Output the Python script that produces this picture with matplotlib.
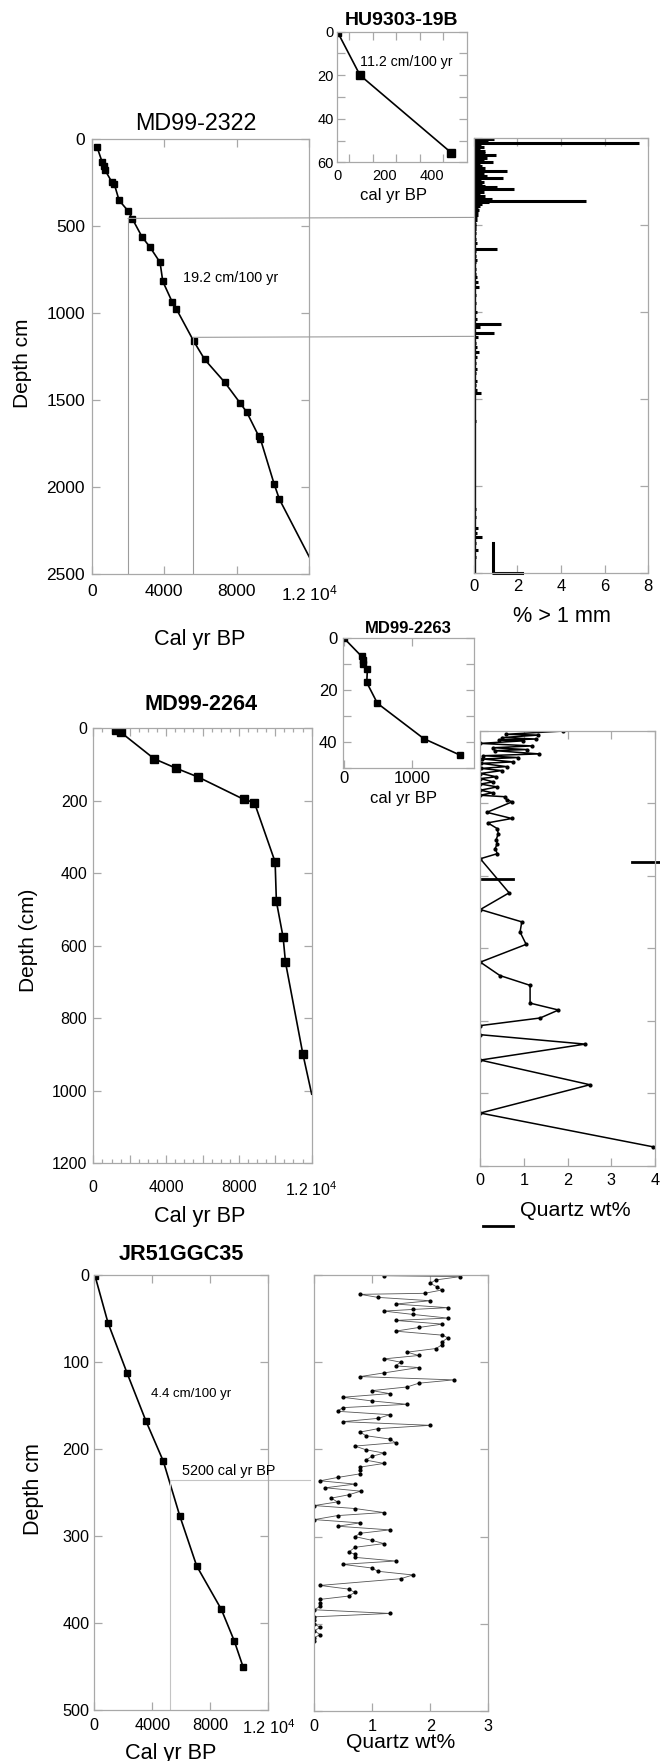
import numpy as np
import matplotlib
matplotlib.use('Agg')
from matplotlib import pyplot as plt
from matplotlib.patches import ConnectionPatch

plt.rcParams['font.family'] = ['Liberation Sans', 'DejaVu Sans']
plt.rcParams['mathtext.fontset'] = 'custom'
plt.rcParams['mathtext.rm'] = 'Liberation Sans'
plt.rcParams['mathtext.default'] = 'regular'

# ---- MD99-2322 age model (cal yr BP vs depth cm)
md2322_age = [290, 570, 660, 735, 1100, 1250, 1510, 2000, 2240, 2780, 3220, 3770,
              3920, 4450, 4670, 5630, 6230, 7340, 8200, 8550, 9210, 9300, 10060, 10350]
md2322_depth = [43, 129, 152, 177, 244, 259, 351, 411, 457, 562, 621, 708,
                817, 938, 976, 1162, 1266, 1398, 1519, 1569, 1707, 1722, 1982, 2070]
md2322_tail = (12000, 2402)
md2322_tie_age = [2000, 5600]
md2322_tie_depth = [455, 1139]

# ---- HU9303-19B
hu_age = [0, 96, 482]
hu_depth = [0, 20, 55.5]

# ---- MD99-2322 coarse fraction (% > 1 mm)
coarse_depth = [2, 14, 20, 29, 40, 52, 62, 71, 85, 96, 105, 115, 125, 138, 147, 157,
                170, 186, 195, 205, 215, 230, 240, 249, 262, 272, 282, 292, 300, 310,
                320, 330, 340, 349, 359, 368, 375, 388, 400, 415, 426, 440, 455, 470,
                490, 503, 520, 545, 580, 600, 635, 650, 675, 700, 714, 750, 780, 800,
                829, 858, 900, 950, 1001, 1040, 1069, 1088, 1122, 1140, 1180, 1200,
                1231, 1260, 1290, 1327, 1350, 1394, 1420, 1450, 1466, 1560, 1625, 1894,
                2134, 2180, 2240, 2270, 2292, 2330, 2369, 2410, 2461]
coarse_pct = [0.94, 0.67, 0.4, 7.58, 0.35, 0.45, 0.3, 0.52, 0.5, 1.0, 0.35, 0.6, 0.45,
              0.9, 0.3, 0.37, 0.5, 1.54, 0.4, 0.45, 0.6, 1.36, 0.35, 0.45, 0.4, 0.5,
              1.05, 1.86, 0.4, 0.45, 0.3, 0.52, 0.35, 0.82, 5.14, 0.7, 0.4, 0.3, 0.2,
              0.25, 0.21, 0.2, 0.14, 0.15, 0.1, 0.12, 0.12, 0.1, 0.1, 0.15, 1.05, 0.1,
              0.12, 0.15, 0.1, 0.12, 0.1, 0.15, 0.21, 0.24, 0.1, 0.1, 0.14, 0.15, 1.24,
              0.29, 0.95, 0.2, 0.12, 0.15, 0.24, 0.15, 0.12, 0.14, 0.12, 0.14, 0.1,
              0.15, 0.34, 0.08, 0.1, 0.08, 0.1, 0.1, 0.21, 0.15, 0.40, 0.12, 0.21, 0.1,
              0.08]
scale_mark_pct = [0.87, 0.87, 2.2]
scale_mark_depth = [2330, 2500, 2500]

# ---- MD99-2263
md2263_age = [0, 261, 276, 285, 344, 335, 492, 1177, 1718]
md2263_depth = [0, 7, 8.5, 10, 12, 17, 25, 38.6, 45]

# ---- MD99-2264 age model
md2264_age = [1230, 1510, 3340, 4540, 5780, 8260, 8850, 9990, 10060, 10430, 10560, 11510]
md2264_depth = [5, 11, 84, 110, 135, 196, 205, 369, 478, 577, 646, 898]
md2264_tail = (12000, 1010)

# ---- MD99-2264 quartz
q2264_depth = [1, 10, 12, 19, 23, 26, 28, 35, 42, 47, 52, 55, 64, 69, 74, 78, 86, 90,
               99, 104, 110, 118, 127, 132, 141, 147, 155, 164, 171, 178, 182, 190, 196,
               225, 242, 254, 270, 284, 302, 311, 325, 339, 353, 447, 493, 527, 555, 589,
               638, 675, 702, 751, 770, 792, 813, 838, 864, 908, 976, 1054, 1147]
q2264_wt = [1.89, 0.58, 1.33, 0.50, 1.28, 0.43, 0.98, 0.0, 1.18, 0.30, 1.06, 0.33, 1.35,
            0.07, 0.87, 0.05, 0.76, 0.02, 0.60, 0.02, 0.49, 0.0, 0.37, 0.0, 0.30, 0.0,
            0.39, 0.0, 0.28, 0.0, 0.56, 0.60, 0.73, 0.15, 0.72, 0.17, 0.39, 0.41, 0.36,
            0.39, 0.34, 0.39, 0.0, 0.66, 0.0, 0.95, 0.91, 1.05, 0.0, 0.45, 1.14, 1.14,
            1.79, 1.37, 0.0, 0.0, 2.40, 0.0, 2.51, 0.0, 3.95]
q2264_bar1 = ([0.05, 0.74], 408)
q2264_bar2 = ([3.47, 4.12], 362)
q2264_bar3 = ([0.07, 0.74], 1365)

# ---- JR51GGC35 age model
jr_age = [50, 945, 2255, 3566, 4759, 5890, 7062, 8759, 9655, 10255]
jr_depth = [1, 55, 112.5, 168, 214, 276.6, 334.5, 384.3, 420.7, 450.2]
jr_tie_age = 5200
jr_tie_depth = 236

# ---- JR51GGC35 quartz
jr_q_wt = [1.20, 2.51, 2.09, 2.0, 2.11, 2.2, 1.9, 0.79, 1.10, 2.0, 1.40, 2.30, 1.70, 1.20,
           1.70, 2.30, 1.40, 2.21, 1.80, 1.40, 2.21, 2.30, 2.2, 2.2, 2.1, 1.6, 1.8, 1.2,
           1.49, 1.4, 1.8, 1.2, 0.79, 2.4, 1.8, 1.6, 0.99, 1.3, 0.49, 0.99, 1.6, 0.49,
           0.4, 1.3, 1.1, 0.49, 2.0, 1.1, 0.79, 0.89, 1.3, 1.4, 0.7, 0.89, 1.2, 0.99,
           0.89, 1.2, 0.79, 0.79, 0.79, 0.4, 0.1, 0.7, 0.19, 0.8, 0.59, 0.29, 0.4, 0.0,
           0.7, 1.2, 0.4, 0.0, 0.79, 0.4, 1.3, 0.79, 0.7, 0.99, 1.2, 0.7, 0.59, 0.7, 0.7,
           1.4, 0.49, 0.99, 1.1, 1.7, 1.49, 0.1, 0.59, 0.7, 0.59, 0.1, 0.1, 0.1, 0.0,
           1.3, 0.0, 0.0, 0.0, 0.1, 0.0, 0.1, 0.0, 0.0]
jr_q_depth = [0.8, 1.9, 5.7, 9.6, 13.4, 17.2, 21, 22.2, 25.7, 29.5, 33.3, 37.5, 39.5, 41.4,
              45.2, 49.4, 52.1, 56.3, 60.2, 64.4, 69, 72, 77, 80, 84.3, 88.5, 92.3, 96.2,
              100, 104.2, 106.1, 112.3, 116.5, 120.3, 124.1, 128.4, 132.6, 136, 140.2,
              144.4, 148.3, 152.1, 156.3, 160.2, 164.4, 168.2, 172.4, 176.2, 180.1,
              184.3, 188.1, 192.3, 196.2, 200.4, 204.2, 208, 212.3, 216.1, 220.3, 224.1,
              228, 232.2, 236, 239.8, 244, 247.9, 252.1, 255.9, 260.2, 264.4, 267.8,
              272.4, 275.9, 280.5, 284.3, 288.1, 292.3, 296.2, 300, 304.2, 308, 312.3,
              318, 320, 323.8, 328, 331.8, 336, 339.8, 344, 348.3, 356, 360.2, 364,
              368.2, 372, 375.9, 380, 383.9, 388.1, 392, 395.8, 400, 404.2, 408, 412.3,
              416.1, 420]

W, H = 660, 1761
FRAME = '#a8a8a8'
TIE = '#9c9c9c'

fig = plt.figure(figsize=(W / 100, H / 100), dpi=100)


def box(l, t, r, b):
    return [l / W, 1 - b / H, (r - l) / W, (b - t) / H]


def ftext(x, y, s, **kw):
    kw.setdefault('ha', 'center')
    kw.setdefault('va', 'baseline')
    fig.text(x / W, 1 - y / H, s, **kw)


def frame(ax, size, xpad, ypad, major=6, minor=3):
    for s in ax.spines.values():
        s.set_color(FRAME)
        s.set_linewidth(0.9)
    ax.tick_params(which='both', direction='in', top=True, right=True,
                   color=FRAME, width=0.9, labelsize=size)
    ax.tick_params(which='major', length=major)
    ax.tick_params(which='minor', length=minor)
    ax.tick_params(axis='x', pad=xpad)
    ax.tick_params(axis='y', pad=ypad)


big = ['0', '4000', '8000', '1.2 10$^4$']

# MD99-2322 age-depth
axA = fig.add_axes(box(91.7, 139.3, 309.3, 574))
axA.plot(md2322_age + [md2322_tail[0]], md2322_depth + [md2322_tail[1]], color='k', lw=1.2)
axA.plot(md2322_age, md2322_depth, 's', color='k', ms=5)
for a, d in zip(md2322_tie_age, md2322_tie_depth):
    axA.plot([a, a], [d, 2500], color=TIE, lw=0.8)
axA.text(5020, 820, '19.2 cm/100 yr', fontsize=10.4, va='baseline')
axA.set_xlim(0, 12000)
axA.set_ylim(2500, 0)
axA.set_xticks([0, 4000, 8000, 12000], big)
axA.set_yticks(range(0, 2501, 500))
frame(axA, 12.5, 7, 4.8)
ftext(195.8, 130, 'MD99-2322', fontsize=16.8)
ftext(200, 644.8, 'Cal yr BP', fontsize=15.6)
ftext(23, 363, 'Depth cm', fontsize=15, rotation=90, va='center')

# coarse fraction
axB = fig.add_axes(box(473.7, 138.3, 648.3, 573))
axB.axvline(0, color='k', lw=2.4)
axB.hlines(coarse_depth, 0, coarse_pct, color='k', lw=2.2)
axB.plot(scale_mark_pct, scale_mark_depth, color='k', lw=2.2, clip_on=False)
axB.set_xlim(0, 8)
axB.set_ylim(2500, 0)
axB.set_xticks(range(0, 9, 2))
axB.set_yticks(range(0, 2501, 500))
frame(axB, 12, 4.5, 3)
axB.tick_params(labelleft=False)
ftext(561.7, 621.8, '% > 1 mm', fontsize=15.6)

for a, d in zip(md2322_tie_age, md2322_tie_depth):
    fig.add_artist(ConnectionPatch(xyA=(a, d), coordsA=axA.transData,
                                   xyB=(0, d), coordsB=axB.transData,
                                   color=TIE, lw=0.8))

# HU9303-19B inset
axH = fig.add_axes(box(336.7, 31.7, 467, 162.3))
axH.plot(hu_age, hu_depth, '-s', color='k', lw=1.2, ms=5.8)
axH.text(291, 15.7, '11.2 cm/100 yr', fontsize=10.2, ha='center', va='baseline')
axH.set_xlim(-3, 550)
axH.set_ylim(60, 0)
axH.set_xticks([0, 200, 400])
axH.set_xticks(range(50, 500, 100), minor=True)
axH.set_yticks([0, 20, 40, 60])
axH.set_yticks(range(10, 60, 20), minor=True)
frame(axH, 10.5, 4.6, 2, major=6, minor=6)
axH.tick_params(axis='x', which='major', length=0)
ftext(401.7, 25.3, 'HU9303-19B', fontsize=14, fontweight='bold')
ftext(393.3, 200, 'cal yr BP', fontsize=12)

# MD99-2263 inset
axC = fig.add_axes(box(342.7, 638.3, 473.5, 768.3))
axC.plot(md2263_age, md2263_depth, '-s', color='k', lw=1.2, ms=4.8)
axC.set_xlim(-20, 1910)
axC.set_ylim(50, 0)
axC.set_xticks([0, 1000])
axC.set_yticks([0, 20, 40])
axC.set_yticks([10, 30, 50], minor=True)
frame(axC, 12, 2, 3.9, major=6, minor=6)
ftext(408, 632.7, 'MD99-2263', fontsize=12, fontweight='bold')
ftext(404, 803.3, 'cal yr BP', fontsize=12)

# MD99-2264 age-depth
axD = fig.add_axes(box(93.3, 728.3, 311.7, 1163))
axD.plot(md2264_age + [md2264_tail[0]], md2264_depth + [md2264_tail[1]], color='k', lw=1.2)
axD.plot(md2264_age, md2264_depth, 's', color='k', ms=5.3)
axD.set_xlim(0, 12000)
axD.set_ylim(1200, 0)
axD.set_xticks(range(0, 12001, 2000), [big[i // 2] if i % 2 == 0 else '' for i in range(7)])
axD.set_xticks(range(0, 12001, 500), minor=True)
axD.set_yticks(range(0, 1201, 200))
frame(axD, 11.5, 12.5, 4.3)
ftext(201, 710, 'MD99-2264', fontsize=15.6, fontweight='bold')
ftext(200, 1221.7, 'Cal yr BP', fontsize=15.6)
ftext(28, 940, 'Depth (cm)', fontsize=15, rotation=90, va='center')

# MD99-2264 quartz
axE = fig.add_axes(box(480.3, 730.7, 655, 1166))
axE.plot(q2264_wt, q2264_depth, '-o', color='k', lw=1.1, ms=2)
for xs, d in (q2264_bar1, q2264_bar2, q2264_bar3):
    axE.plot(xs, [d, d], color='k', lw=2, clip_on=False)
axE.set_xlim(0, 4)
axE.set_ylim(1200, 0)
axE.set_xticks(range(0, 5))
axE.set_yticks(range(0, 1201, 200))
frame(axE, 11.7, 4.9, 3)
axE.tick_params(labelleft=False)
ftext(575, 1216, 'Quartz wt%', fontsize=15.4)

# JR51GGC35 age-depth
axF = fig.add_axes(box(94.3, 1275, 268.3, 1710))
axF.plot(jr_age, jr_depth, '-s', color='k', lw=1.2, ms=4.8)
axF.plot([jr_tie_age, jr_tie_age], [jr_tie_depth, 500], color='#c4c4c4', lw=0.8)
axF.plot([jr_tie_age, 14880], [jr_tie_depth, jr_tie_depth], color='#c4c4c4', lw=0.8,
         clip_on=False)
axF.text(3910, 140.7, '4.4 cm/100 yr', fontsize=9.5, va='baseline')
axF.text(6070, 229.9, '5200 cal yr BP', fontsize=10.4, va='baseline')
axF.set_xlim(0, 12000)
axF.set_ylim(500, 0)
axF.set_xticks([0, 4000, 8000, 12000], big)
axF.set_yticks(range(0, 501, 100))
frame(axF, 11.7, 5.7, 3.6)
ftext(181, 1260, 'JR51GGC35', fontsize=15.6, fontweight='bold')
ftext(171, 1759, 'Cal yr BP', fontsize=15.6)
ftext(33, 1489, 'Depth cm', fontsize=15.5, rotation=90, va='center')

# JR51GGC35 quartz
axG = fig.add_axes(box(314.3, 1275, 488.3, 1711))
axG.plot(jr_q_wt, jr_q_depth, '-', color='#555555', lw=0.6)
axG.plot(jr_q_wt, jr_q_depth, 'o', color='k', ms=2)
axG.set_xlim(0, 3)
axG.set_ylim(500, 0)
axG.set_xticks(range(0, 4))
axG.set_yticks(range(0, 501, 100))
frame(axG, 11.7, 5.6, 3)
axG.tick_params(labelleft=False)
ftext(400.5, 1748.3, 'Quartz wt%', fontsize=15.2)

fig.savefig('out.png', dpi=100)
